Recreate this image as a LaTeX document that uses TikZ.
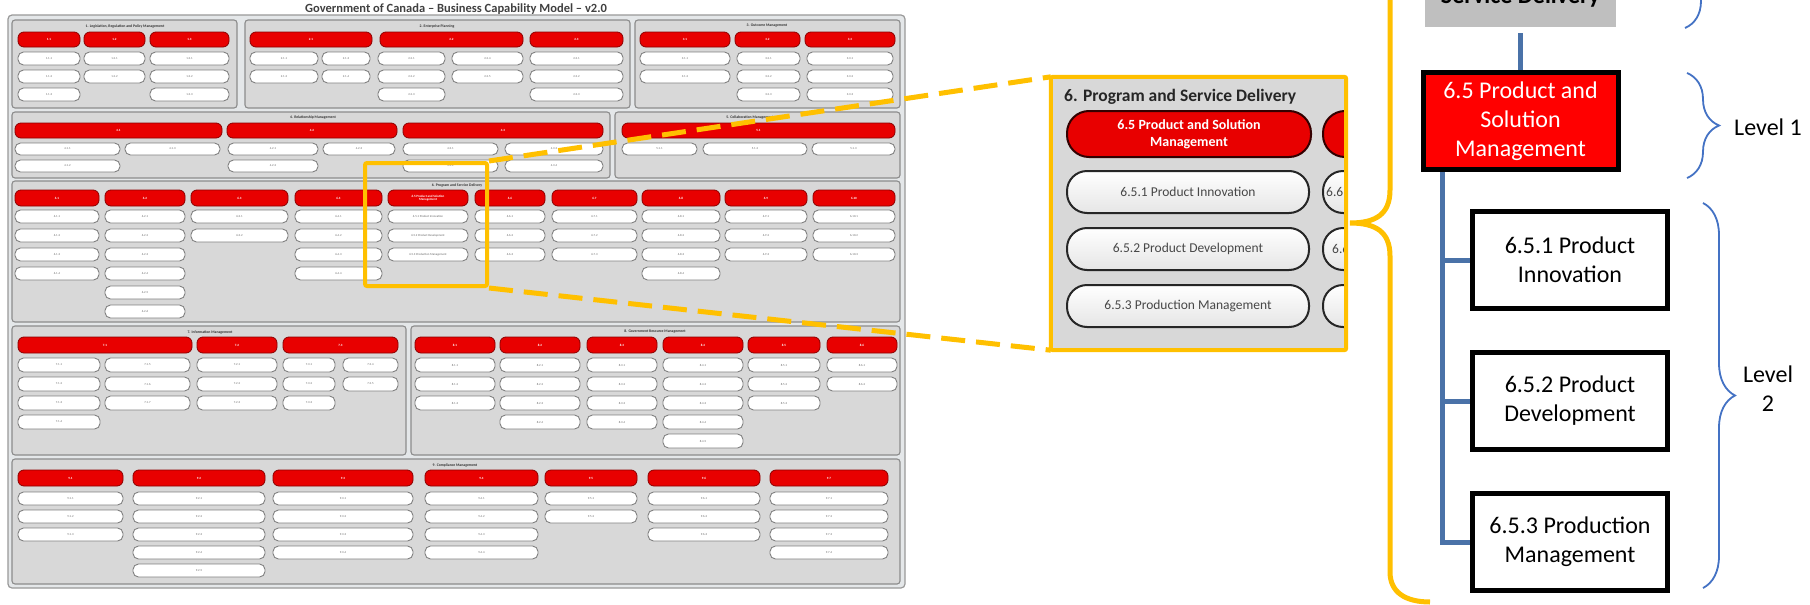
\documentclass[tikz,border=0pt]{standalone}
\usepackage{fontspec}
\setmainfont{Carlito}
\usepackage{tikz}
\usetikzlibrary{positioning, calc, decorations.pathreplacing}
\definecolor{capredfill}{RGB}{232,0,0}
\definecolor{capredline}{RGB}{140,0,0}
\definecolor{panelgray}{RGB}{216,216,216}
\definecolor{framegray}{RGB}{228,231,233}
\definecolor{zoomorange}{RGB}{255,192,0}
\definecolor{treeblue}{RGB}{74,114,168}
\definecolor{braceblue}{RGB}{68,114,196}
\definecolor{lvlgray}{RGB}{191,191,191}
\tikzset{
    bcmtitle/.style={font=\fontsize{12.5}{14}\selectfont\bfseries, text=black!75, inner sep=0pt},
    bcmframe/.style={draw=black!40, fill=framegray, line width=1.2pt, rounded corners=4pt},
    panel/.style={draw=black!45, fill=panelgray, line width=1.1pt, rounded corners=3pt},
    panelhead/.style={font=\fontsize{3.8}{4.2}\selectfont\bfseries, text=black!80, inner sep=0pt},
    capred/.style={rectangle, rounded corners=6pt, draw=capredline, fill=capredfill, line width=0.8pt, inner sep=0pt, text=white, align=center, font=\fontsize{3.2}{3.6}\selectfont\bfseries},
    capwhite/.style={rectangle, rounded corners=5.5pt, draw=black!50, fill=white, line width=0.9pt, inner sep=0pt, text=black!60, align=center, font=\fontsize{3}{3.4}\selectfont},
    zoombox/.style={draw=zoomorange, line width=4pt, rounded corners=2pt},
    zoomline/.style={draw=zoomorange, line width=5pt, dash pattern=on 24pt off 11pt},
    zoombrace/.style={draw=zoomorange, line width=5pt},
    zred/.style={rectangle, rounded corners=22pt, draw=black!80!red, line width=2pt, fill=capredfill, minimum width=244pt, minimum height=46pt, text=white, align=center, inner sep=0pt, font=\fontsize{14}{17}\selectfont\bfseries},
    zwhite/.style={rectangle, rounded corners=20pt, draw=black!85, line width=2pt, top color=white, bottom color=black!10, minimum width=242pt, minimum height=42pt, text=black!72, inner sep=0pt, font=\fontsize{13.5}{16}\selectfont},
    lvlbox/.style={rectangle, draw=black, line width=5pt, minimum width=195pt, minimum height=97pt, inner sep=2pt, align=center, font=\fontsize{24}{29}\selectfont},
    lvltop/.style={rectangle, fill=lvlgray, minimum width=191pt, minimum height=88pt, inner sep=0pt, align=center, font=\fontsize{24}{29}\selectfont\bfseries},
    treeline/.style={draw=treeblue, line width=5pt},
    lvlbrace/.style={draw=braceblue, line width=1.8pt, decorate, decoration={brace, amplitude=32pt}},
    lvllabel/.style={align=center, inner sep=0pt, font=\fontsize{24}{29}\selectfont}
}
% one red capability pill of the current row
\newcommand{\capred}[4]{%
  \node[capred, minimum width={(#3-#2)*1pt}, minimum height={(\ryb-\rya)*1pt}] (#1) at ({(#2+#3)/2},{(\rya+\ryb)/2}) {#4};}
% a column of white sub-capability pills
\newcommand{\capwhites}[6]{%
  \foreach \k in {1,...,#4}{%
    \pgfmathtruncatemacro{\wi}{\k+#6}%
    \node[capwhite, minimum width={(#3-#2)*1pt}, minimum height={\wh*1pt}] (#1-\wi) at ({(#2+#3)/2},{\wy+(\k-1)*\wp+\wh/2}) {#5.\wi};
  }}

\begin{document}
\begin{tikzpicture}[x=1pt, y=-1pt]
    \useasboundingbox[fill=white] (0,0) rectangle (1810,605);

    % business capability model
    \node[bcmtitle] (bcmtitle) at (456,9) {Government of Canada -- Business Capability Model -- v2.0};
    \draw[bcmframe] (8,15) rectangle (905,588);

    \draw[panel] (12,20) rectangle (237,108);
    \draw[panel] (245,20) rectangle (630,108);
    \draw[panel] (635,20) rectangle (900,108);
    \draw[panel] (12,112) rectangle (610,178);
    \draw[panel] (615,112) rectangle (900,178);
    \draw[panel] (12,181) rectangle (900,322);
    \draw[panel] (12,326) rectangle (406,455);
    \draw[panel] (411,326) rectangle (900,455);
    \draw[panel] (12,459) rectangle (900,584);

    \node[panelhead] (h1) at (125,26) {1. Legislation, Regulation and Policy Management};
    \node[panelhead] (h2) at (437,26) {2. Enterprise Planning};
    \node[panelhead] (h3) at (767,26) {3. Outcome Management};
    \node[panelhead] (h4) at (313,117) {4. Relationship Management};
    \node[panelhead] (h5) at (750,117) {5. Collaboration Management};
    \node[panelhead] (h6) at (457,185) {6. Program and Service Delivery};
    \node[panelhead] (h7) at (210,332) {7. Information Management};
    \node[panelhead] (h8) at (655,332) {8. Government Resource Management};
    \node[panelhead] (h9) at (455,465) {9. Compliance Management};

    \def\rya{32}\def\ryb{47}\def\wy{52}\def\wp{18}\def\wh{13}
    \capred{c11}{18}{80}{1.1}
    \capred{c12}{84}{145}{1.2}
    \capred{c13}{150}{229}{1.3}
    \capwhites{c11}{18}{80}{3}{1.1}{0}
    \capwhites{c12}{84}{145}{2}{1.2}{0}
    \capwhites{c13}{150}{229}{3}{1.3}{0}
    \capred{c21}{250}{372}{2.1}
    \capred{c22}{380}{523}{2.2}
    \capred{c23}{530}{623}{2.3}
    \capwhites{c21}{250}{318}{2}{2.1}{0}
    \capwhites{c21}{322}{370}{2}{2.1}{2}
    \capwhites{c22}{378}{445}{3}{2.2}{0}
    \capwhites{c22}{452}{523}{2}{2.2}{3}
    \capwhites{c23}{530}{623}{3}{2.3}{0}
    \capred{c31}{640}{730}{3.1}
    \capred{c32}{735}{800}{3.2}
    \capred{c33}{805}{895}{3.3}
    \capwhites{c31}{640}{730}{2}{3.1}{0}
    \capwhites{c32}{737}{800}{3}{3.2}{0}
    \capwhites{c33}{807}{893}{3}{3.3}{0}

    \def\rya{123}\def\ryb{138}\def\wy{143}\def\wp{17}\def\wh{12}
    \capred{c41}{15}{222}{4.1}
    \capred{c42}{227}{397}{4.2}
    \capred{c43}{403}{603}{4.3}
    \capwhites{c41}{15}{120}{2}{4.1}{0}
    \capwhites{c41}{125}{220}{1}{4.1}{2}
    \capwhites{c42}{228}{318}{2}{4.2}{0}
    \capwhites{c42}{323}{395}{1}{4.2}{2}
    \capwhites{c43}{403}{498}{2}{4.3}{0}
    \capwhites{c43}{505}{603}{2}{4.3}{2}
    \capred{c51}{622}{895}{5.1}
    \capwhites{c51}{622}{697}{1}{5.1}{0}
    \capwhites{c51}{703}{807}{1}{5.1}{1}
    \capwhites{c51}{812}{895}{1}{5.1}{2}

    \def\rya{190}\def\ryb{206}\def\wy{210}\def\wp{19}\def\wh{13}
    \capred{c61}{15}{99}{6.1}
    \capred{c62}{105}{185}{6.2}
    \capred{c63}{191}{288}{6.3}
    \capred{c64}{295}{382}{6.4}
    \capred{c65}{388}{468}{6.5 Product and Solution\\Management}
    \capred{c66}{475}{545}{6.6}
    \capred{c67}{552}{637}{6.7}
    \capred{c68}{642}{720}{6.8}
    \capred{c69}{725}{807}{6.9}
    \capred{c610}{813}{895}{6.10}
    \capwhites{c61}{15}{99}{4}{6.1}{0}
    \capwhites{c62}{105}{185}{6}{6.2}{0}
    \capwhites{c63}{191}{288}{2}{6.3}{0}
    \capwhites{c64}{295}{382}{4}{6.4}{0}
    \node[capwhite, minimum width=80pt, minimum height=13pt] (c65-1) at (428,216.5) {6.5.1 Product Innovation};
    \node[capwhite, minimum width=80pt, minimum height=13pt] (c65-2) at (428,235.5) {6.5.2 Product Development};
    \node[capwhite, minimum width=80pt, minimum height=13pt] (c65-3) at (428,254.5) {6.5.3 Production Management};
    \capwhites{c66}{475}{545}{3}{6.6}{0}
    \capwhites{c67}{552}{637}{3}{6.7}{0}
    \capwhites{c68}{642}{720}{4}{6.8}{0}
    \capwhites{c69}{725}{807}{3}{6.9}{0}
    \capwhites{c610}{813}{895}{3}{6.10}{0}

    \def\rya{337}\def\ryb{353}\def\wy{358}\def\wp{19}\def\wh{14}
    \capred{c71}{18}{192}{7.1}
    \capred{c72}{197}{277}{7.2}
    \capred{c73}{283}{398}{7.3}
    \capwhites{c71}{18}{100}{4}{7.1}{0}
    \capwhites{c71}{105}{190}{3}{7.1}{4}
    \capwhites{c72}{197}{277}{3}{7.2}{0}
    \capwhites{c73}{283}{335}{3}{7.3}{0}
    \capwhites{c73}{343}{398}{2}{7.3}{3}
    \capred{c81}{415}{495}{8.1}
    \capred{c82}{500}{580}{8.2}
    \capred{c83}{587}{657}{8.3}
    \capred{c84}{663}{743}{8.4}
    \capred{c85}{748}{820}{8.5}
    \capred{c86}{827}{897}{8.6}
    \capwhites{c81}{415}{495}{3}{8.1}{0}
    \capwhites{c82}{500}{580}{4}{8.2}{0}
    \capwhites{c83}{587}{657}{4}{8.3}{0}
    \capwhites{c84}{663}{743}{5}{8.4}{0}
    \capwhites{c85}{748}{820}{3}{8.5}{0}
    \capwhites{c86}{827}{897}{2}{8.6}{0}

    \def\rya{470}\def\ryb{486}\def\wy{492}\def\wp{18}\def\wh{13}
    \capred{c91}{18}{123}{9.1}
    \capred{c92}{133}{265}{9.2}
    \capred{c93}{273}{413}{9.3}
    \capred{c94}{425}{538}{9.4}
    \capred{c95}{545}{637}{9.5}
    \capred{c96}{648}{760}{9.6}
    \capred{c97}{770}{888}{9.7}
    \capwhites{c91}{18}{123}{3}{9.1}{0}
    \capwhites{c92}{133}{265}{5}{9.2}{0}
    \capwhites{c93}{273}{413}{4}{9.3}{0}
    \capwhites{c94}{425}{538}{4}{9.4}{0}
    \capwhites{c95}{545}{637}{2}{9.5}{0}
    \capwhites{c96}{648}{760}{3}{9.6}{0}
    \capwhites{c97}{770}{888}{4}{9.7}{0}

    % zoom on 6.5
    \node[zoombox, minimum width=122pt, minimum height=123pt] (zsmall) at (426,224.5) {};
    \node[fill=panelgray, minimum width=295pt, minimum height=273pt, inner sep=0pt] (zbig) at (1198.5,213.5) {};
    \draw[zoomline] (zsmall.north east) -- (zbig.north west);
    \draw[zoomline] (zsmall.south east) -- (zbig.south west);
    \begin{scope}
        \clip (zbig.north west) rectangle (zbig.south east);
        \node[anchor=base west, inner sep=0pt, text=black!85, font=\fontsize{17.5}{20}\selectfont\bfseries] (zhead) at (1064,101) {6. Program and Service Delivery};
        \node[zred] (z65) at (1189,134) {6.5 Product and Solution\\Management};
        \node[zred] (z66) at (1445,134) {};
        \node[zwhite] (z651) at (1188,192) {6.5.1 Product Innovation};
        \node[zwhite] (z652) at (1188,249) {6.5.2 Product Development};
        \node[zwhite] (z653) at (1188,306) {6.5.3 Production Management};
        \node[zwhite] (z661) at (1444,192) {};
        \node[zwhite] (z662) at (1444,249) {};
        \node[zwhite] (z663) at (1444,306) {};
        \node[anchor=west, inner sep=0pt, text=black!72, font=\fontsize{13.5}{16}\selectfont] (z661t) at (1326,192) {6.6.1};
        \node[anchor=west, inner sep=0pt, text=black!72, font=\fontsize{13.5}{16}\selectfont] (z662t) at (1332,249) {6.6.2};
    \end{scope}
    \draw[zoombox] (zbig.north west) rectangle (zbig.south east);

    \draw[zoombrace] (1430,-160) .. controls (1405,-160) and (1390,-150) .. (1390,-125) -- (1390,190)
        .. controls (1390,214) and (1376,223) .. (1350,223) .. controls (1376,223) and (1390,232) .. (1390,256)
        -- (1390,572) .. controls (1390,592) and (1405,602) .. (1430,602);

    % levels
    \node[lvltop, anchor=south] (lvl0) at (1520.5,27) {6. Program and\\Service Delivery};
    \node[lvlbox, fill=red, text=white] (lvl1) at (1520.5,121) {6.5 Product and\\Solution\\Management};
    \node[lvlbox, fill=white] (w1) at (1570,260) {6.5.1 Product\\Innovation};
    \node[lvlbox, fill=white, below=39pt of w1] (w2) {6.5.2 Product\\Development};
    \node[lvlbox, fill=white, below=39pt of w2] (w3) {6.5.3 Production\\Management};

    \coordinate (trunk) at ($(lvl1.south west)+(22,0)$);
    \draw[treeline, shorten <=6pt] (lvl0) -- (lvl1);
    \draw[treeline] (trunk) |- (w1.west) (trunk) |- (w2.west) (trunk) |- (w3.west);

    \draw[lvlbrace] (1685,-80) -- (1685,28);
    \draw[lvlbrace] (1687,73) -- (1687,178);
    \draw[lvlbrace] (1703,203) -- (1703,588);
    \node[lvllabel] (lab1) at (1768,127) {Level 1};
    \node[lvllabel] (lab2) at (1768,389) {Level\\2};
\end{tikzpicture}
\end{document}
